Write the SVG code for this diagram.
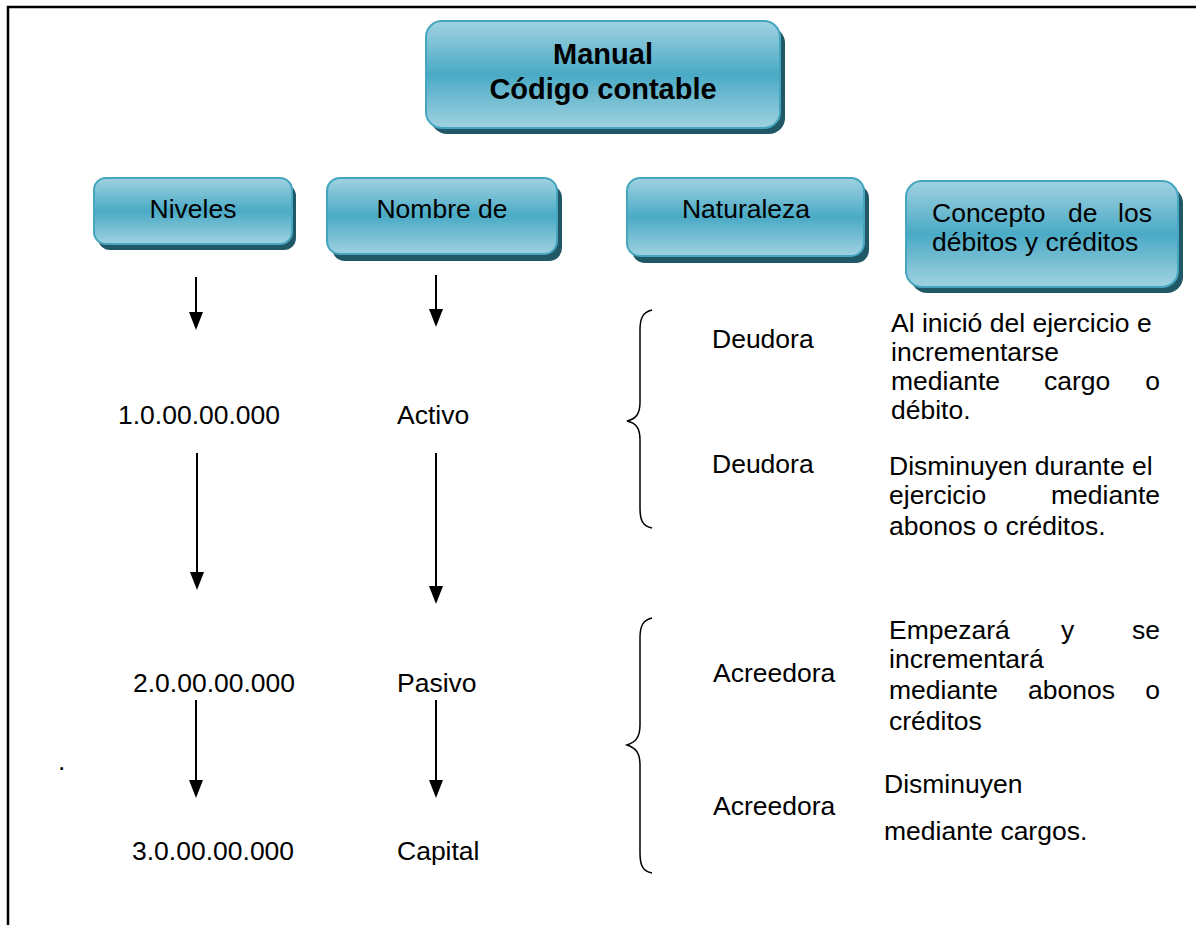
<svg xmlns="http://www.w3.org/2000/svg" width="1196" height="925" viewBox="0 0 1196 925">
<defs>
<linearGradient id="g" x1="0" y1="0" x2="0" y2="1">
<stop offset="0" stop-color="#a0d2e1"/>
<stop offset="0.5" stop-color="#4aaac5"/>
<stop offset="1" stop-color="#a0d2e1"/>
</linearGradient>
<style>
.box{fill:url(#g);stroke:#46a6c0;stroke-width:2}
.sh{fill:#215867}
.t{font-family:"Liberation Sans",Arial,sans-serif;font-size:26.5px;fill:#000}
.tb{font-family:"Liberation Sans",Arial,sans-serif;font-size:29px;font-weight:bold;fill:#000}
.ar{stroke:#000;stroke-width:2;fill:none}
.hd{fill:#000}
.br{stroke:#000;stroke-width:1.5;fill:none}
</style>
</defs>
<rect x="0" y="0" width="1196" height="925" fill="#fff"/>
<path d="M8,925 L8,7 L1196,7" stroke="#000" stroke-width="2.5" fill="none"/>

<g id="main">
<rect class="sh" x="431" y="27" width="354" height="107" rx="16"/>
<rect class="box" x="426" y="21" width="354" height="107" rx="16"/>
<text class="tb" x="603" y="64" text-anchor="middle">Manual</text>
<text class="tb" x="603" y="99" text-anchor="middle">Código contable</text>
</g>
<g id="niveles">
<rect class="sh" x="98" y="184" width="198" height="66" rx="12"/>
<rect class="box" x="94" y="178" width="198" height="66" rx="12"/>
<text class="t" x="193" y="218" text-anchor="middle">Niveles</text>
</g>
<g id="nombre">
<rect class="sh" x="332" y="185" width="230" height="76" rx="13"/>
<rect class="box" x="327" y="178" width="230" height="76" rx="13"/>
<text class="t" x="442" y="218" text-anchor="middle">Nombre de</text>
</g>
<g id="naturaleza">
<rect class="sh" x="632" y="185" width="237" height="78" rx="13"/>
<rect class="box" x="627" y="178" width="237" height="78" rx="13"/>
<text class="t" x="746" y="218" text-anchor="middle">Naturaleza</text>
</g>
<g id="concepto">
<rect class="sh" x="911" y="187" width="272" height="106" rx="16"/>
<rect class="box" x="906" y="181" width="272" height="106" rx="16"/>
<text class="t" y="222"><tspan x="932">Concepto</tspan><tspan x="1068">de</tspan><tspan x="1152" text-anchor="end">los</tspan></text>
<text class="t" x="932" y="251">débitos y créditos</text>
</g>

<g id="connectors">
<line class="ar" x1="196" y1="277" x2="196" y2="314"/>
<polygon class="hd" points="189,312 203,312 196,330"/>
<line class="ar" x1="197" y1="453" x2="197" y2="574"/>
<polygon class="hd" points="190,572 204,572 197,590"/>
<line class="ar" x1="196" y1="700" x2="196" y2="782"/>
<polygon class="hd" points="189,780 203,780 196,798"/>
<line class="ar" x1="436" y1="275" x2="436" y2="311"/>
<polygon class="hd" points="429,309 443,309 436,327"/>
<line class="ar" x1="436" y1="453" x2="436" y2="588"/>
<polygon class="hd" points="429,586 443,586 436,604"/>
<line class="ar" x1="436" y1="700" x2="436" y2="782"/>
<polygon class="hd" points="429,780 443,780 436,798"/>
<path class="br" d="M652,310 C643,312 640,318 640,330 L640,402 C640,414 636,419 627,421 C636,423 640,428 640,440 L640,508 C640,521 643,526 652,528"/>
<path class="br" d="M652,618 C643,620 640,626 640,638 L640,725 C640,737 636,742 627,745 C636,748 640,753 640,765 L640,853 C640,866 643,871 652,873"/>
</g>

<g id="codes">
<text class="t" x="199" y="424" text-anchor="middle">1.0.00.00.000</text>
<text class="t" x="397" y="424">Activo</text>
<text class="t" x="214" y="692" text-anchor="middle">2.0.00.00.000</text>
<text class="t" x="397" y="692">Pasivo</text>
<text class="t" x="132" y="860">3.0.00.00.000</text>
<text class="t" x="397" y="860">Capital</text>
</g>
<g id="naturaleza-items">
<text class="t" x="712" y="348">Deudora</text>
<text class="t" x="712" y="473">Deudora</text>
<text class="t" x="713" y="682">Acreedora</text>
<text class="t" x="713" y="815">Acreedora</text>
</g>
<g id="conceptos">
<text class="t" x="891" y="332">Al inició del ejercicio e</text>
<text class="t" x="891" y="361">incrementarse</text>
<text class="t" y="390"><tspan x="891">mediante</tspan><tspan x="1044">cargo</tspan><tspan x="1160" text-anchor="end">o</tspan></text>
<text class="t" x="891" y="419">débito.</text>
<text class="t" x="889" y="475">Disminuyen durante el</text>
<text class="t" y="504"><tspan x="889">ejercicio</tspan><tspan x="1160" text-anchor="end">mediante</tspan></text>
<text class="t" x="889" y="535">abonos o créditos.</text>
<text class="t" y="639"><tspan x="889">Empezará</tspan><tspan x="1061">y</tspan><tspan x="1160" text-anchor="end">se</tspan></text>
<text class="t" x="889" y="668">incrementará</text>
<text class="t" y="699"><tspan x="889">mediante</tspan><tspan x="1028">abonos</tspan><tspan x="1160" text-anchor="end">o</tspan></text>
<text class="t" x="889" y="730">créditos</text>
<text class="t" x="884" y="793">Disminuyen</text>
<text class="t" x="884" y="840">mediante cargos.</text>
</g>
<text class="t" x="58" y="770">.</text>
</svg>
